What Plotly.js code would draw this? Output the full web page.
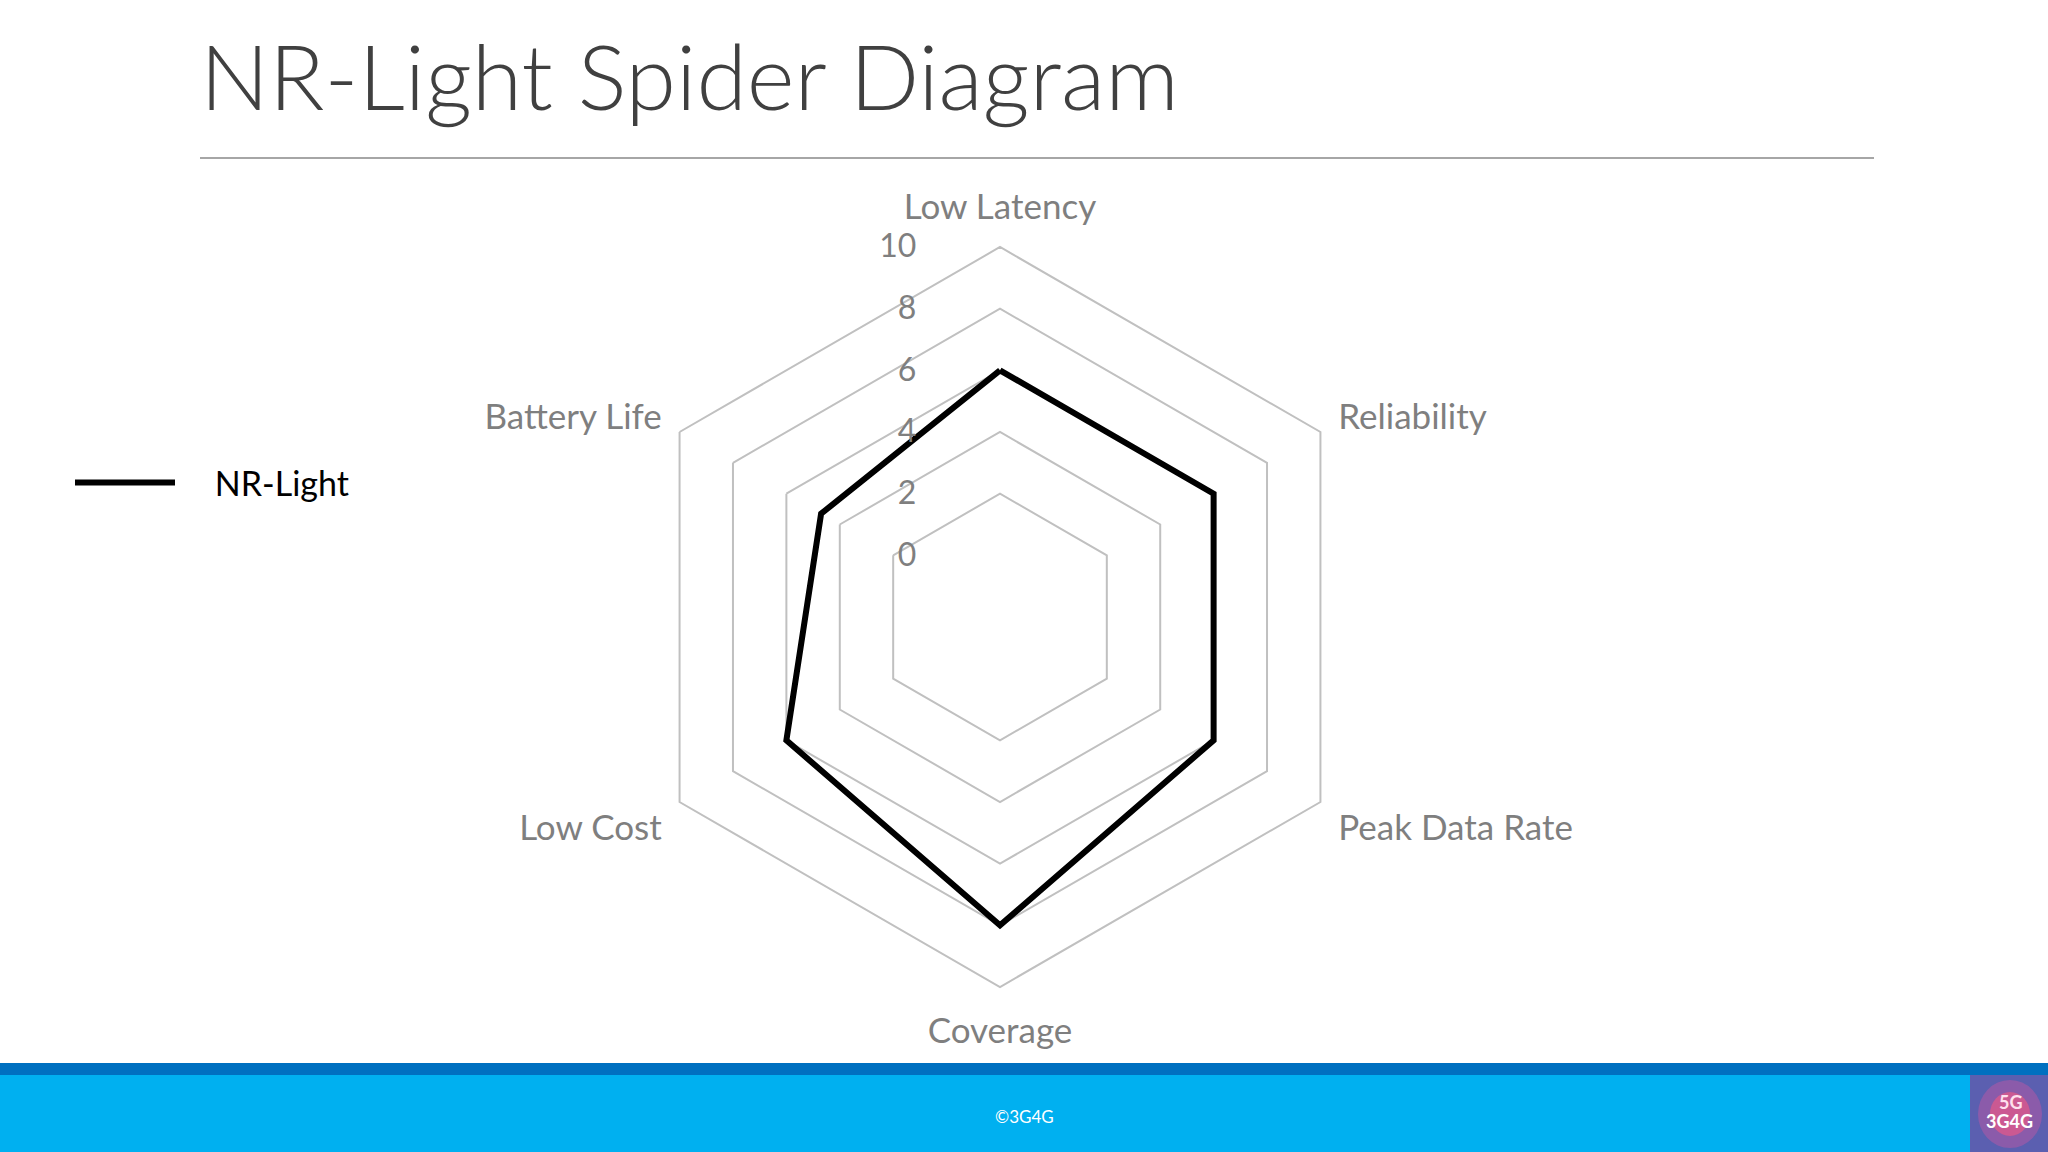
<!DOCTYPE html>
<html>
<head>
<meta charset="utf-8">
<script src="https://cdn.plot.ly/plotly-3.0.1.min.js"></script>
<style>
  html, body { margin: 0; padding: 0; background: #ffffff; }
  #chart { width: 2048px; height: 1152px; }
</style>
</head>
<body>
<div id="chart"></div>
<script>
// ---- data ----
const categories = ["Low Latency", "Reliability", "Peak Data Rate", "Coverage", "Low Cost", "Battery Life"];
const nrLightValues = [6, 6, 6, 8, 6, 4.7];
const radialTicks = [0, 2, 4, 6, 8, 10];
const seriesName = "NR-Light";

const FONT = "Lato, 'Open Sans', sans-serif";

// close the polygon
const thetaClosed = categories.concat([categories[0]]);
const rClosed = nrLightValues.concat([nrLightValues[0]]);

// radial axis runs a little past 10 so the 10 ring is drawn as a grid line;
// hole chosen so that the "0" level sits at 1/6 of the 10 ring radius
const rMax = 10.1;
const k = 10 / rMax;
const holeFrac = k / (5 + k);
const ringFrac = holeFrac + (1 - holeFrac) * k;
const R10 = 370;                 // px radius of the 10 ring
const Rout = R10 / ringFrac;     // px radius of the polar domain
const cx = 1000, cyFromBottom = 535;

const traces = [{
  type: "scatterpolar",
  r: rClosed,
  theta: thetaClosed,
  mode: "lines",
  name: "\u00a0\u00a0\u00a0\u00a0" + seriesName,
  line: { color: "#000000", width: 6 },
  hoverinfo: "skip"
}];

const layout = {
  width: 2048,
  height: 1152,
  margin: { l: 0, r: 0, t: 0, b: 0 },
  paper_bgcolor: "#ffffff",
  font: { family: FONT, color: "#7f7f7f" },
  title: {
    text: "NR-Light Spider Diagram",
    font: { family: FONT, size: 91.5, color: "#404040", weight: 300 },
    x: 200 / 2048, xanchor: "left", xref: "paper",
    y: 1 - 78 / 1152, yanchor: "middle", yref: "container"
  },
  showlegend: true,
  legend: {
    x: 70 / 2048, xanchor: "left",
    y: 1 - 483 / 1152, yanchor: "middle",
    font: { family: FONT, size: 34, color: "#000000" },
    bgcolor: "rgba(0,0,0,0)",
    itemwidth: 100
  },
  polar: {
    domain: { x: [(cx - Rout) / 2048, (cx + Rout) / 2048], y: [(cyFromBottom - Rout) / 1152, (cyFromBottom + Rout) / 1152] },
    gridshape: "linear",
    hole: holeFrac,
    bgcolor: "rgba(0,0,0,0)",
    radialaxis: {
      range: [0, rMax],
      tickvals: radialTicks,
      angle: 90,
      side: "counterclockwise",
      showline: false,
      ticks: "outside",
      ticklen: 72,
      tickcolor: "rgba(0,0,0,0)",
      gridcolor: "#c0c0c0",
      gridwidth: 2,
      tickfont: { family: FONT, size: 32, color: "#7f7f7f" },
      tickangle: 90,
      ticklabelshift: -22
    },
    angularaxis: {
      rotation: 90,
      direction: "clockwise",
      showgrid: false,
      showline: false,
      ticks: "outside",
      ticklen: 10,
      tickcolor: "rgba(0,0,0,0)",
      tickfont: { family: FONT, size: 35, color: "#7f7f7f" }
    }
  },
  shapes: [
    // rule under title
    { type: "line", xref: "paper", yref: "paper", x0: 200 / 2048, x1: 1874 / 2048, y0: 1 - 158 / 1152, y1: 1 - 158 / 1152,
      line: { color: "#a6a6a6", width: 2 } },
    // footer bands
    { type: "rect", xref: "paper", yref: "paper", x0: 0, x1: 1, y0: 1 - 1075 / 1152, y1: 1 - 1063 / 1152,
      line: { width: 0 }, fillcolor: "#0070c0" },
    { type: "rect", xref: "paper", yref: "paper", x0: 0, x1: 1, y0: 0, y1: 1 - 1075 / 1152,
      line: { width: 0 }, fillcolor: "#00b0f0" },
    // logo tile
    { type: "rect", xref: "paper", yref: "paper", x0: 1970 / 2048, x1: 1, y0: 0, y1: 1 - 1075 / 1152,
      line: { width: 0 }, fillcolor: "#5b5fb0" },
    { type: "circle", xref: "paper", yref: "paper", x0: 1978 / 2048, x1: 2042 / 2048, y0: 1 - 1148 / 1152, y1: 1 - 1080 / 1152,
      line: { width: 0 }, fillcolor: "#a05aa8", opacity: 0.7 },
    { type: "circle", xref: "paper", yref: "paper", x0: 1990 / 2048, x1: 2030 / 2048, y0: 1 - 1136 / 1152, y1: 1 - 1092 / 1152,
      line: { width: 0 }, fillcolor: "#e0588a", opacity: 0.75 }
  ],
  annotations: [
    { text: "©3G4G", xref: "paper", yref: "paper", x: 0.5, y: 1 - 1116 / 1152, xanchor: "center", yanchor: "middle",
      showarrow: false, font: { family: FONT, size: 17, color: "#ffffff" } },
    { text: "<b>5G</b>", xref: "paper", yref: "paper", x: 2011 / 2048, y: 1 - 1102 / 1152, xanchor: "center", yanchor: "middle",
      showarrow: false, font: { family: FONT, size: 18, color: "#ffe0ee" } },
    { text: "<b>3G4G</b>", xref: "paper", yref: "paper", x: 2009 / 2048, y: 1 - 1121 / 1152, xanchor: "center", yanchor: "middle",
      showarrow: false, font: { family: FONT, size: 18, color: "#ffffff" } }
  ]
};

Plotly.newPlot("chart", traces, layout, { displayModeBar: false, staticPlot: true });
</script>
</body>
</html>
